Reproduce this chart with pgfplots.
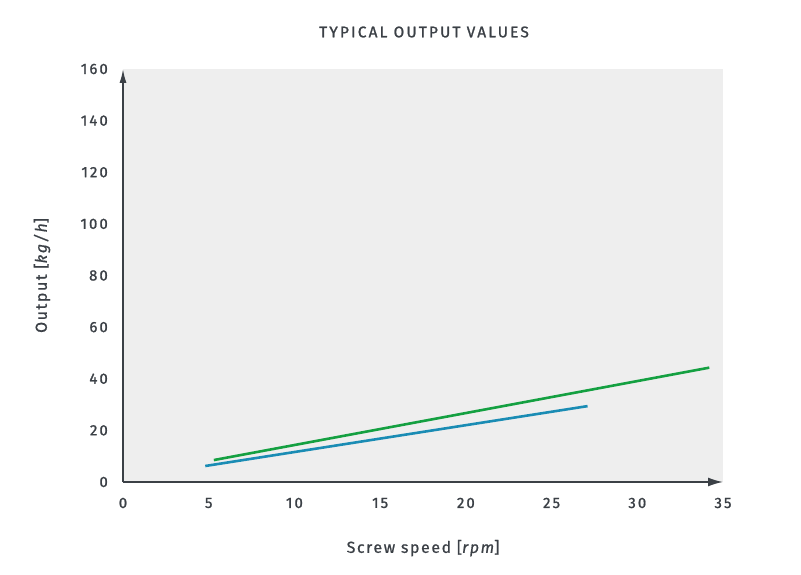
\documentclass[border=0pt]{standalone}
\usepackage{fontspec}
\setmainfont{Fira Sans}[LetterSpace=10, FakeBold=0.6]
\newfontfamily\semi{Fira Sans}[LetterSpace=14, FakeBold=1.2]
\newfontfamily\lab{Fira Sans}[LetterSpace=10, FakeBold=0.8]
\usepackage{pgfplots}
\pgfplotsset{compat=1.18}
\usetikzlibrary{arrows.meta}
\definecolor{txt}{HTML}{3B4046}
\definecolor{bg}{HTML}{EEEEEE}
\definecolor{lgreen}{HTML}{14A041}
\definecolor{lblue}{HTML}{1A8CB4}
\begin{document}
\begin{tikzpicture}
\begin{axis}[
  scale only axis, width=600bp, height=413bp,
  xmin=0, xmax=35, ymin=0, ymax=160,
  axis lines=left,
  axis line style={draw=txt, line width=1.6bp},
  x axis line style={-{Latex[length=15bp,width=9bp]}},
  y axis line style={-{Latex[length=14bp,width=7bp]}},
  axis background/.style={fill=bg},
  xtick={0,5,...,35}, ytick={0,20,...,160},
  major tick length=0pt,
  /pgf/number format/assume math mode=true,
  tick label style={font=\semi\fontsize{15}{17}\selectfont, text=txt},
  xticklabel style={anchor=center, inner sep=0pt, yshift=-21bp},
  yticklabel style={anchor=east, inner sep=0pt, xshift=-15bp},
  label style={font=\lab\fontsize{16}{19}\selectfont, text=txt},
  xlabel={Screw speed [{\lab\itshape rpm}]},
  ylabel={Output [{\lab\itshape kg/h}]},
  xlabel style={at={(axis description cs:0.5,-0.16)}, anchor=center},
  ylabel style={at={(axis description cs:-0.135,0.5)}, anchor=center, rotate=0},
  clip=false,
]
\addplot[lgreen, line width=2.6bp] coordinates {(5.3,8.5) (34.2,44.3)};
\addplot[lblue, line width=2.6bp] coordinates {(4.8,6.2) (27.1,29.4)};
\end{axis}
\node[text=txt, font=\semi\fontsize{15.5}{18}\selectfont] at (301bp,450bp) {TYPICAL OUTPUT VALUES};
\pgfresetboundingbox
\path[use as bounding box] (-123bp,-93bp) rectangle (678bp,482bp);
\end{tikzpicture}
\end{document}
